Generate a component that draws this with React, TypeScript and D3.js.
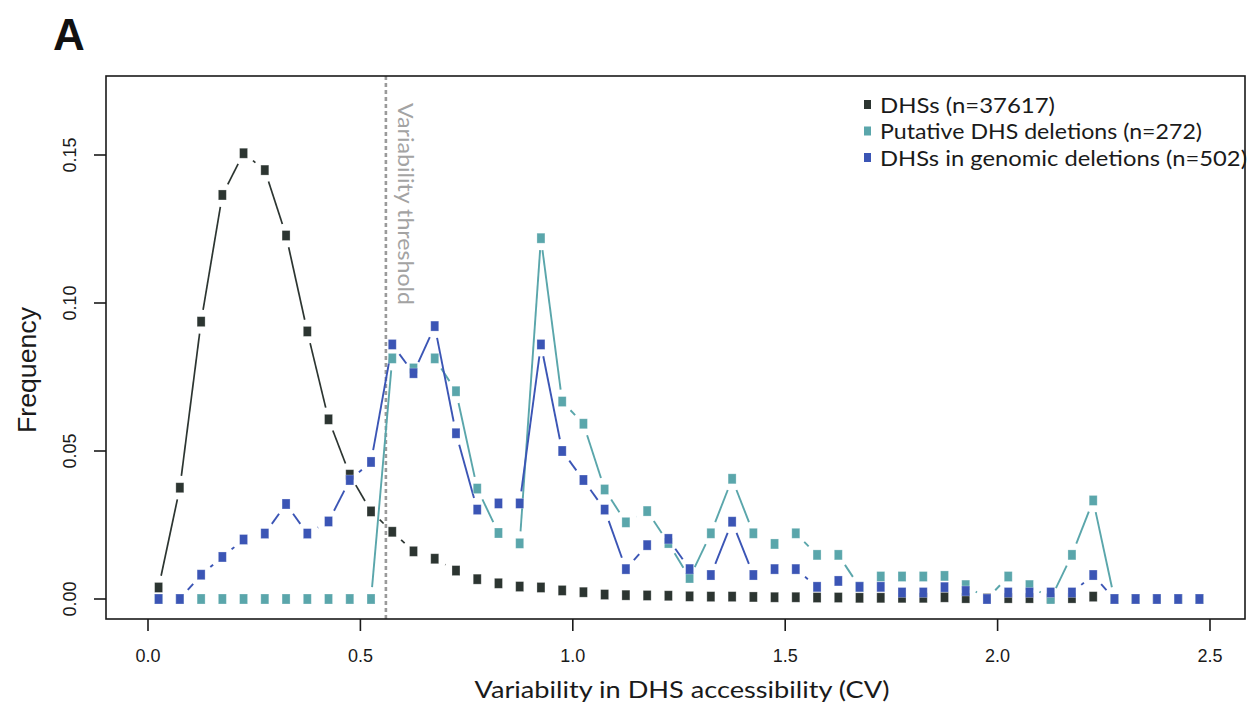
import React from "react";
import * as d3 from "d3";

// bin centres of the CV histogram
const binCenters: number[] = [
  0.025, 0.075, 0.125, 0.175, 0.225, 0.275, 0.325, 0.375, 0.425, 0.475,
  0.525, 0.575, 0.625, 0.675, 0.725, 0.775, 0.825, 0.875, 0.925, 0.975,
  1.025, 1.075, 1.125, 1.175, 1.225, 1.275, 1.325, 1.375, 1.425, 1.475,
  1.525, 1.575, 1.625, 1.675, 1.725, 1.775, 1.825, 1.875, 1.925, 1.975,
  2.025, 2.075, 2.125, 2.175, 2.225, 2.275, 2.325, 2.375, 2.425, 2.475,
];

const dhsAll: number[] = [
  0.0039, 0.0376, 0.0937, 0.1365, 0.1506, 0.1449, 0.1228, 0.0904, 0.0607, 0.042,
  0.0296, 0.0227, 0.0161, 0.0136, 0.0096, 0.0067, 0.0053, 0.0042, 0.0039, 0.0029,
  0.0023, 0.0015, 0.0013, 0.0012, 0.0011, 0.0009, 0.0008, 0.0008, 0.0007, 0.0006,
  0.0006, 0.0005, 0.0005, 0.0004, 0.0004, 0.0004, 0.0004, 0.0006, 0.0003, 0.0002,
  0.0003, 0.0003, 0.0002, 0.0003, 0.0008, 0, 0, 0, 0, 0,
];

const putativeDeletions: number[] = [
  0, 0, 0, 0, 0, 0, 0, 0, 0, 0,
  0, 0.0813, 0.0779, 0.0813, 0.0702, 0.0373, 0.0223, 0.0188, 0.1219, 0.0667,
  0.0592, 0.037, 0.0259, 0.0297, 0.0189, 0.0071, 0.0222, 0.0406, 0.0222, 0.0186,
  0.0222, 0.0149, 0.0149, 0.0041, 0.0076, 0.0076, 0.0076, 0.0078, 0.0047, 0,
  0.0076, 0.0047, 0, 0.0149, 0.0333, 0, 0, 0, 0, 0,
];

const genomicDeletions: number[] = [
  0, 0, 0.0082, 0.0142, 0.0201, 0.0221, 0.0321, 0.0221, 0.0262, 0.0402,
  0.0463, 0.086, 0.0763, 0.0922, 0.056, 0.0302, 0.0323, 0.0323, 0.086, 0.05,
  0.0402, 0.0302, 0.0101, 0.0182, 0.0203, 0.0101, 0.0081, 0.0261, 0.0081, 0.0101,
  0.0101, 0.0041, 0.0061, 0.0041, 0.0041, 0.0022, 0.0022, 0.004, 0.0027, 0,
  0.0022, 0.0022, 0.0022, 0.0022, 0.0081, 0, 0, 0, 0, 0,
];

const seriesNames: string[] = [
  "DHSs (n=37617)",
  "Putative DHS deletions (n=272)",
  "DHSs in genomic deletions (n=502)",
];
const seriesColors: string[] = ["#2c3531", "#5aa6ab", "#3b55b5"];
const legendWidths: number[] = [175, 322, 367];

const xTicks: number[] = [0, 0.5, 1, 1.5, 2, 2.5];
const yTicks: number[] = [0, 0.05, 0.1, 0.15];
const threshold = 0.56;

const W = 1253;
const H = 709;
const frame = { left: 106, right: 1245, top: 76, bottom: 619 };

export default function App() {
  const x = d3.scaleLinear().domain([0, 2.5]).range([148, 1210]);
  const y = d3.scaleLinear().domain([0, 0.15]).range([599, 155]);

  const gap = 12;
  const segs = (vals: number[]) => {
    const out: { x1: number; y1: number; x2: number; y2: number }[] = [];
    for (let i = 0; i < vals.length - 1; i++) {
      const x0 = x(binCenters[i]);
      const y0 = y(vals[i]);
      const x1 = x(binCenters[i + 1]);
      const y1 = y(vals[i + 1]);
      const dx = x1 - x0;
      const dy = y1 - y0;
      const len = Math.hypot(dx, dy);
      if (len <= 2 * gap) continue;
      const ux = dx / len;
      const uy = dy / len;
      out.push({ x1: x0 + ux * gap, y1: y0 + uy * gap, x2: x1 - ux * gap, y2: y1 - uy * gap });
    }
    return out;
  };

  const series = [dhsAll, putativeDeletions, genomicDeletions];
  const lineWidths = [1.7, 1.9, 1.9];
  const sqW = 8;
  const sqH = 10;

  const tickFont = "'Liberation Sans', Arial, sans-serif";
  const labelFont = "Lato, 'Open Sans', sans-serif";

  return (
    <svg
      width={W}
      height={H}
      style={{ position: "absolute", left: 0, top: 0, background: "#fff" }}
    >
      <text x={53} y={50} fontFamily={tickFont} fontWeight="bold" fontSize={44} fill="#111">
        A
      </text>

      {/* threshold */}
      <line
        x1={x(threshold)}
        x2={x(threshold)}
        y1={frame.top}
        y2={frame.bottom}
        stroke="#9a9a9a"
        strokeWidth={2.6}
        strokeDasharray="4 3"
      />
      <text
        transform={`translate(${x(threshold) + 12},${103}) rotate(90)`}
        fontFamily={labelFont}
        fontSize={21}
        fill="#a3a3a3"
        textLength={202}
        lengthAdjust="spacingAndGlyphs"
      >
        Variability threshold
      </text>

      {/* lines */}
      {series.map((vals, si) => (
        <g key={"l" + si}>
          {segs(vals).map((s, i) => (
            <line
              key={i}
              x1={s.x1}
              y1={s.y1}
              x2={s.x2}
              y2={s.y2}
              stroke={seriesColors[si]}
              strokeWidth={lineWidths[si]}
            />
          ))}
        </g>
      ))}

      {/* points */}
      {series.map((vals, si) => (
        <g key={"p" + si}>
          {vals.map((v, i) => (
            <rect
              key={i}
              x={x(binCenters[i]) - sqW / 2}
              y={y(v) - sqH / 2}
              width={sqW}
              height={sqH}
              fill={seriesColors[si]}
              stroke="#ffffff"
              strokeOpacity={0.35}
              strokeWidth={0.8}
            />
          ))}
        </g>
      ))}

      {/* frame */}
      <rect
        x={frame.left}
        y={frame.top}
        width={frame.right - frame.left}
        height={frame.bottom - frame.top}
        fill="none"
        stroke="#1a1a1a"
        strokeWidth={1.6}
      />

      {/* x axis */}
      {xTicks.map((t) => (
        <g key={"xt" + t}>
          <line x1={x(t)} x2={x(t)} y1={frame.bottom} y2={frame.bottom + 12} stroke="#1a1a1a" strokeWidth={1.6} />
          <text
            x={x(t)}
            y={frame.bottom + 43}
            textAnchor="middle"
            fontFamily={tickFont}
            fontSize={18}
            fill="#1a1a1a"
          >
            {d3.format(".1f")(t)}
          </text>
        </g>
      ))}
      <text
        x={682}
        y={698}
        textAnchor="middle"
        fontFamily={labelFont}
        fontSize={23}
        fill="#1a1a1a"
        textLength={415}
        lengthAdjust="spacingAndGlyphs"
      >
        Variability in DHS accessibility (CV)
      </text>

      {/* y axis */}
      {yTicks.map((t) => (
        <g key={"yt" + t}>
          <line x1={frame.left - 12} x2={frame.left} y1={y(t)} y2={y(t)} stroke="#1a1a1a" strokeWidth={1.6} />
          <text
            transform={`translate(${frame.left - 30},${y(t)}) rotate(-90)`}
            textAnchor="middle"
            fontFamily={tickFont}
            fontSize={18}
            fill="#1a1a1a"
          >
            {d3.format(".2f")(t)}
          </text>
        </g>
      ))}
      <text
        transform={`translate(36,370) rotate(-90)`}
        textAnchor="middle"
        fontFamily={tickFont}
        fontSize={26}
        fill="#1a1a1a"
        textLength={126}
        lengthAdjust="spacingAndGlyphs"
      >
        Frequency
      </text>

      {/* legend */}
      {seriesNames.map((name, i) => (
        <g key={"lg" + i}>
          <rect x={864} y={100 + i * 26.5} width={7} height={9} fill={seriesColors[i]} />
          <text
            x={880}
            y={112.5 + i * 26.5}
            fontFamily={labelFont}
            fontSize={22}
            fill="#1a1a1a"
            textLength={legendWidths[i]}
            lengthAdjust="spacingAndGlyphs"
          >
            {name}
          </text>
        </g>
      ))}
    </svg>
  );
}
